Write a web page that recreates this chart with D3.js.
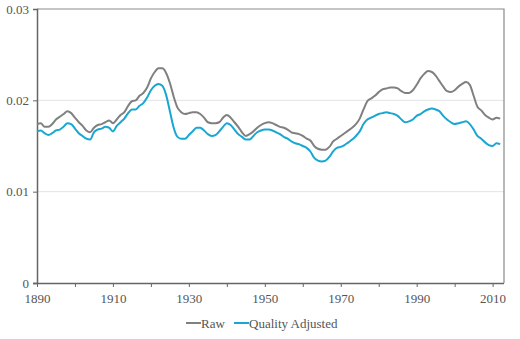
<!DOCTYPE html>
<html>
<head>
<meta charset="utf-8">
<script src="https://cdn.jsdelivr.net/npm/d3@7"></script>
<style>
  body { margin: 0; background: #fff; }
  text { font-family: "Liberation Serif", serif; fill: #555; }
</style>
</head>
<body>
<script>
// yearly values, 1890 - 2012
const years = d3.range(1890, 2013);
const rawValues = [
  0.0174, 0.0175, 0.0171, 0.0171, 0.0174, 0.0179, 0.0182, 0.0185, 0.0188, 0.0186,
  0.0181, 0.0176, 0.0172, 0.0167, 0.0165, 0.0170, 0.0173, 0.0174, 0.0176, 0.0178,
  0.0175, 0.0179, 0.0184, 0.0187, 0.0194, 0.0199, 0.0200, 0.0205, 0.0208, 0.0214,
  0.0224, 0.0231, 0.0235, 0.0235, 0.0230, 0.0219, 0.0204, 0.0192, 0.0187, 0.0185,
  0.0186, 0.0187, 0.0187, 0.0185, 0.0181, 0.0176, 0.0175, 0.0175, 0.0176, 0.0181,
  0.0184, 0.0181, 0.0176, 0.0171, 0.0165, 0.0161, 0.0163, 0.0166, 0.0170, 0.0173,
  0.0175, 0.0176, 0.0175, 0.0173, 0.0171, 0.0170, 0.0168, 0.0165, 0.0164, 0.0163,
  0.0161, 0.0158, 0.0156, 0.0150, 0.0147, 0.0146, 0.0146, 0.0149, 0.0155, 0.0158,
  0.0161, 0.0164, 0.0167, 0.0170, 0.0174, 0.0180, 0.0190, 0.0199, 0.0202, 0.0205,
  0.0209, 0.0212, 0.0213, 0.0214, 0.0214, 0.0213, 0.0210, 0.0208, 0.0208, 0.0211,
  0.0217, 0.0224, 0.0229, 0.0232, 0.0231, 0.0227, 0.0221, 0.0215, 0.0210, 0.0209,
  0.0211, 0.0215, 0.0218, 0.0220, 0.0217, 0.0205, 0.0193, 0.0189, 0.0184, 0.0181,
  0.0179, 0.0181, 0.0180
];
const adjustedValues = [
  0.0166, 0.0167, 0.0164, 0.0162, 0.0164, 0.0167, 0.0168, 0.0171, 0.0175, 0.0174,
  0.0169, 0.0164, 0.0161, 0.0158, 0.0157, 0.0165, 0.0168, 0.0169, 0.0171, 0.0170,
  0.0166, 0.0172, 0.0176, 0.0180, 0.0186, 0.0190, 0.0190, 0.0194, 0.0197, 0.0203,
  0.0211, 0.0216, 0.0218, 0.0216, 0.0206, 0.0188, 0.0170, 0.0160, 0.0158, 0.0158,
  0.0162, 0.0166, 0.0170, 0.0170, 0.0167, 0.0163, 0.0161, 0.0162, 0.0166, 0.0171,
  0.0175, 0.0173, 0.0168, 0.0163, 0.0160, 0.0157, 0.0157, 0.0161, 0.0165, 0.0167,
  0.0168, 0.0168, 0.0167, 0.0165, 0.0163, 0.0160, 0.0158, 0.0155, 0.0153, 0.0152,
  0.0150, 0.0148, 0.0144, 0.0137, 0.0134, 0.0133, 0.0134, 0.0138, 0.0144, 0.0148,
  0.0149, 0.0151, 0.0154, 0.0157, 0.0161, 0.0166, 0.0174, 0.0179, 0.0181, 0.0183,
  0.0185, 0.0186, 0.0187, 0.0186, 0.0185, 0.0183, 0.0179, 0.0176, 0.0177, 0.0179,
  0.0183, 0.0185, 0.0188, 0.0190, 0.0191, 0.0190, 0.0188, 0.0183, 0.0179, 0.0176,
  0.0174, 0.0175, 0.0176, 0.0177, 0.0174, 0.0168, 0.0161, 0.0158, 0.0154, 0.0151,
  0.0150, 0.0153, 0.0152
];
const seriesNames = ["Raw", "Quality Adjusted"];
const xTicks = d3.range(1890, 2011, 10);
const xLabels = [1890, 1910, 1930, 1950, 1970, 1990, 2010];
const yTicks = [0, 0.01, 0.02, 0.03];

const app = {

  init: () => {
    app.frame();
    app.lines();
    app.legend();
  },

  setup: () => {
    app.svg = d3.select("body").append("svg")
      .attr("width", 520)
      .attr("height", 339);
    app.x = d3.scaleLinear().domain([1890, 2013]).range([37, 504]);
    app.y = d3.scaleLinear().domain([0, 0.03]).range([283, 9]);
  },

  frame: () => {
    app.setup();
    const svg = app.svg, x = app.x, y = app.y;

    // light gridlines
    svg.append("g").selectAll("line")
      .data([0.01, 0.02])
      .enter().append("line")
      .attr("x1", 37).attr("x2", 504)
      .attr("y1", d => y(d)).attr("y2", d => y(d))
      .style("stroke", "#e3e3e3");

    // top + right border
    svg.append("path")
      .attr("d", `M37,${y(0.03)}H504V${y(0)}`)
      .style("fill", "none")
      .style("stroke", "#8a8a8a")
      .style("stroke-width", 1.2);

    // y axis
    const yAxis = svg.append("g")
      .attr("transform", "translate(37,0)")
      .call(d3.axisLeft(y).tickValues(yTicks).tickSize(4).tickPadding(4)
        .tickFormat(d => d === 0 ? "0" : d3.format(".2f")(d)));
    // x axis
    const xAxis = svg.append("g")
      .attr("transform", `translate(0,${y(0)})`)
      .call(d3.axisBottom(x).tickValues(xTicks).tickSize(4).tickPadding(7)
        .tickFormat(d => xLabels.includes(d) ? d : ""));

    [yAxis, xAxis].forEach(a => {
      a.select(".domain").style("stroke", "#666").style("stroke-width", 1.5);
      a.selectAll(".tick line").style("stroke", "#666");
      a.selectAll("text").style("font-family", "'Liberation Serif', serif")
        .style("font-size", "13px").style("fill", "#555");
    });
    xAxis.select(".domain").attr("d", `M33,0.5H504`);
  },

  lines: () => {
    const x = app.x, y = app.y;
    const line = d3.line()
      .x((d, i) => x(years[i]))
      .y(d => y(d))
      .curve(d3.curveMonotoneX);
    app.svg.selectAll(".series")
      .data([rawValues, adjustedValues])
      .enter().append("path")
      .attr("class", "series")
      .attr("d", line)
      .style("fill", "none")
      .style("stroke", (d, i) => i === 0 ? "#808080" : "#19a7d2")
      .style("stroke-width", 2);
  },

  legend: () => {
    const items = app.svg.selectAll(".legend")
      .data(seriesNames)
      .enter().append("g")
      .attr("class", "legend")
      .attr("transform", (d, i) => `translate(${i === 0 ? 186 : 234},323)`);
    items.append("line")
      .attr("x1", 0).attr("x2", 15)
      .style("stroke", (d, i) => i === 0 ? "#808080" : "#19a7d2")
      .style("stroke-width", 2);
    items.append("text")
      .attr("x", 15).attr("y", 4.5)
      .style("font-size", "13px")
      .text(d => d);
  }

}

app.init();
</script>
</body>
</html>
